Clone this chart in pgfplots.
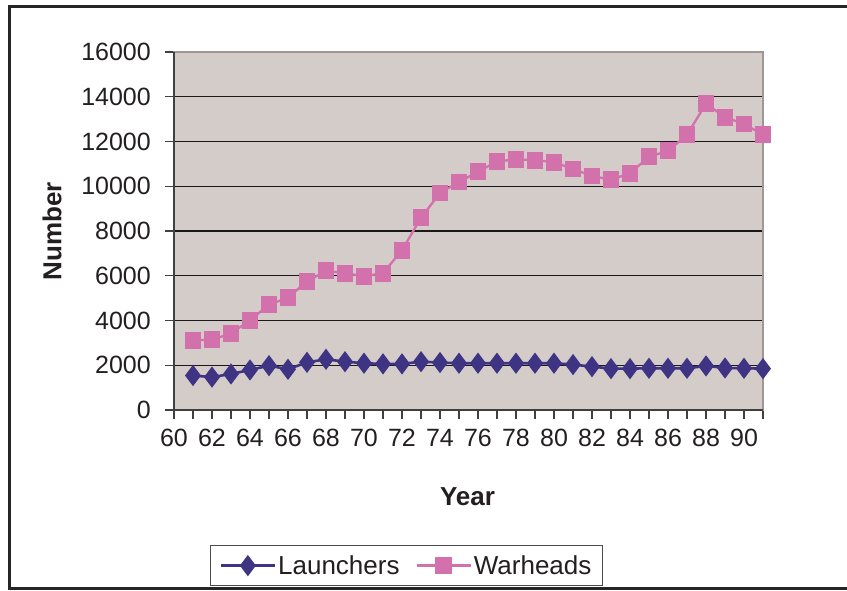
\documentclass[border=0pt]{standalone}
\usepackage{pgfplots}
\pgfplotsset{compat=1.18}
\usepackage{fontspec}
\setmainfont{Liberation Sans}
\definecolor{plotbg}{HTML}{D4CCC9}
\definecolor{launch}{HTML}{3F3383}
\definecolor{warh}{HTML}{D371AD}
\definecolor{pborder}{HTML}{A09694}
\definecolor{txt}{HTML}{231F20}
\begin{document}
\begin{tikzpicture}
\useasboundingbox (0,0) rectangle (847bp,591bp);
\fill[white] (0,0) rectangle (847bp,591bp);
\draw[line width=3bp, black!85] (850bp,584bp) -- (9bp,584bp) -- (9bp,2bp) -- (850bp,2bp);
\begin{axis}[
 at={(174bp,181bp)}, anchor=south west,
 scale only axis, width=589bp, height=358bp,
 xmin=60, xmax=91, ymin=0, ymax=16000,
 scaled ticks=false,
 axis background/.style={fill=plotbg},
 axis line style={draw=pborder, line width=2bp},
 ymajorgrids, major grid style={black!90, line width=1.1bp},
 ytick={0,2000,...,16000}, xtick={60,62,...,90}, minor xtick={61,63,...,91},
 tick align=outside, major tick length=9bp, minor tick length=9bp,
 tick style={black!75, line width=1.1bp},
 xtick pos=bottom, ytick pos=left,
 tick label style={font=\fontsize{25bp}{29bp}\selectfont, text=txt},
 /pgf/number format/assume math mode=true,
 /pgf/number format/1000 sep={},
 yticklabel style={anchor=east, inner sep=0pt, xshift=-14bp},
 xticklabel style={anchor=north, inner sep=0pt, yshift=-10bp},
 xlabel={Year}, ylabel={Number},
 label style={font=\bfseries\fontsize{26bp}{30bp}\selectfont, text=txt},
 xlabel style={at={(axis description cs:0.4983,-0.2654)}, anchor=base},
 ylabel style={at={(axis description cs:-0.2071,0.5)}, anchor=center},
 clip=false,
 legend columns=2,
 legend style={at={(axis description cs:0.3947,-0.377)}, anchor=north,
   draw=black!70, line width=1bp, font=\fontsize{26bp}{30bp}\selectfont, text=txt,
   inner xsep=9bp, inner ysep=8bp,
   /tikz/every even column/.append style={column sep=14bp}},
 legend image code/.code={\draw[mark repeat=2,mark phase=2,#1] plot coordinates {(0bp,0bp) (27bp,0bp) (54bp,0bp)};},
]
\addplot[launch, line width=2.6bp, mark=diamond*, mark size=8.5bp, mark options={solid}] coordinates {
(61,1540)(62,1470)(63,1610)(64,1790)(65,1985)(66,1820)(67,2130)(68,2265)(69,2160)(70,2090)
(71,2060)(72,2060)(73,2160)(74,2120)(75,2090)(76,2090)(77,2090)(78,2090)(79,2090)(80,2090)
(81,2030)(82,1940)(83,1850)(84,1850)(85,1865)(86,1865)(87,1865)(88,1970)(89,1880)(90,1865)(91,1850)};
\addlegendentry{Launchers}
\addplot[warh, line width=2.3bp, mark=square*, mark size=7.3bp, mark options={solid}] coordinates {
(61,3120)(62,3140)(63,3420)(64,4010)(65,4710)(66,5020)(67,5750)(68,6220)(69,6120)(70,5970)
(71,6120)(72,7140)(73,8590)(74,9700)(75,10190)(76,10650)(77,11110)(78,11200)(79,11170)(80,11080)
(81,10770)(82,10460)(83,10290)(84,10580)(85,11320)(86,11580)(87,12300)(88,13690)(89,13090)(90,12780)(91,12310)};
\addlegendentry{Warheads}
\draw[black!75, line width=1.6bp] (rel axis cs:0,1) -- (rel axis cs:0,0) -- (rel axis cs:1,0);
\end{axis}
\end{tikzpicture}
\end{document}
